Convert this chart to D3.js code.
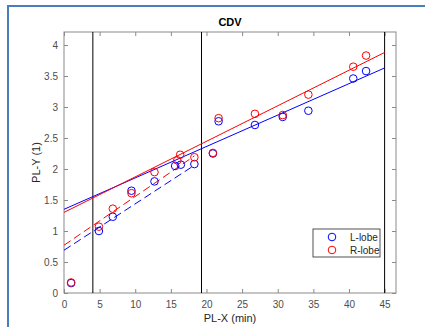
<!DOCTYPE html>
<html>
<head>
<meta charset="utf-8">
<script src="https://cdn.jsdelivr.net/npm/d3@7"></script>
<style>
  body { margin: 0; background: #fff; }
  svg { display: block; font-family: "Liberation Sans", Arial, sans-serif; }
</style>
</head>
<body>
<svg id="chart"></svg>
<script>
const W = 425, H = 327;
const MARGIN = { top: 32, right: 29, bottom: 34, left: 64 };
const WIDTH = W - MARGIN.left - MARGIN.right;
const HEIGHT = H - MARGIN.top - MARGIN.bottom;

// data
const xL = [1, 4.9, 6.85, 9.47, 12.7, 15.6, 16.4, 18.3, 20.9, 21.7, 26.8, 30.7, 34.3, 40.6, 42.4];
const yL = [0.16, 1.00, 1.23, 1.65, 1.80, 2.05, 2.07, 2.08, 2.25, 2.77, 2.71, 2.84, 2.94, 3.46, 3.58];
const xR = [1, 4.9, 6.85, 9.47, 12.7, 15.9, 16.3, 18.3, 20.9, 21.7, 26.8, 30.7, 34.3, 40.6, 42.4];
const yR = [0.17, 1.07, 1.36, 1.61, 1.95, 2.14, 2.23, 2.19, 2.26, 2.82, 2.89, 2.87, 3.20, 3.65, 3.83];

// fitted lines (end points)
const fitLsolid = { x: [0, 45], y: [1.35, 3.63] };
const fitRsolid = { x: [0, 45], y: [1.30, 3.88] };
const fitLdash = { x: [0, 18.3], y: [0.69, 2.06] };
const fitRdash = { x: [0, 18.3], y: [0.77, 2.21] };

const cutoffs = [4.05, 19.3, 45];
const xTicks = [0, 5, 10, 15, 20, 25, 30, 35, 40, 45];
const yTicks = [0, 0.5, 1, 1.5, 2, 2.5, 3, 3.5, 4];
const seriesNames = ['L-lobe', 'R-lobe'];
const BLUE = '#0000ff', RED = '#ff0000';

const svg = d3.select('#chart').attr('width', W).attr('height', H);

// outer blue frame
svg.append('path')
  .attr('d', `M8,${H} L8,6 L${W},6`)
  .attr('fill', 'none')
  .attr('stroke', '#4a7ebb')
  .attr('stroke-width', 2);

const chart = svg.append('g')
  .attr('transform', `translate(${MARGIN.left},${MARGIN.top})`);

const x = d3.scaleLinear().domain([0, 46.6]).range([0, WIDTH]);
const y = d3.scaleLinear().domain([0, 4.21]).range([HEIGHT, 0]);

const AXIS = '#8a8a8a';
const TXT = '#4d4d4d';

function styleAxis(g) {
  g.select('.domain').remove();
  g.selectAll('.tick line').attr('stroke', AXIS);
  g.selectAll('.tick text').attr('fill', TXT).style('font-size', '10px');
}

chart.append('g')
  .attr('transform', `translate(0,${HEIGHT})`)
  .call(d3.axisBottom(x).tickValues(xTicks).tickSizeInner(-4).tickSizeOuter(0).tickPadding(8))
  .call(styleAxis);
chart.append('g')
  .call(d3.axisTop(x).tickValues(xTicks).tickSizeInner(-4).tickSizeOuter(0).tickFormat(''))
  .call(styleAxis);
chart.append('g')
  .call(d3.axisLeft(y).tickValues(yTicks).tickSizeInner(-4).tickSizeOuter(0).tickPadding(6).tickFormat(d3.format('')))
  .call(styleAxis);
chart.append('g')
  .attr('transform', `translate(${WIDTH},0)`)
  .call(d3.axisRight(y).tickValues(yTicks).tickSizeInner(-4).tickSizeOuter(0).tickFormat(''))
  .call(styleAxis);

chart.append('rect')
  .attr('width', WIDTH).attr('height', HEIGHT)
  .attr('fill', 'none').attr('stroke', AXIS).attr('stroke-width', 1);

// vertical cut-off lines
chart.selectAll('.cut')
  .data(cutoffs)
.enter()
  .append('line')
  .attr('x1', d => x(d)).attr('x2', d => x(d))
  .attr('y1', 0).attr('y2', HEIGHT)
  .attr('stroke', '#000').attr('stroke-width', 1);

const line = d3.line().x(d => x(d[0])).y(d => y(d[1]));
const fits = [
  [fitLsolid, BLUE, null], [fitRsolid, RED, null],
  [fitLdash, BLUE, '8,4'], [fitRdash, RED, '8,4'],
];
fits.forEach(([f, c, dash]) => {
  chart.append('path')
    .attr('d', line(d3.zip(f.x, f.y)))
    .attr('fill', 'none')
    .attr('stroke', c)
    .attr('stroke-width', 1)
    .attr('stroke-dasharray', dash);
});

function dots(xs, ys, c) {
  chart.append('g').selectAll('circle')
    .data(d3.zip(xs, ys))
  .enter()
    .append('circle')
    .attr('cx', d => x(d[0])).attr('cy', d => y(d[1]))
    .attr('r', 3.8)
    .attr('fill', 'none')
    .attr('stroke', c)
    .attr('stroke-width', 1);
}
dots(xL, yL, BLUE);
dots(xR, yR, RED);

// title and labels
svg.append('text')
  .attr('x', MARGIN.left + WIDTH / 2).attr('y', 26)
  .attr('text-anchor', 'middle')
  .style('font-size', '11px').style('font-weight', 'bold')
  .attr('fill', '#000')
  .text('CDV');
svg.append('text')
  .attr('x', MARGIN.left + WIDTH / 2).attr('y', 322)
  .attr('text-anchor', 'middle')
  .style('font-size', '11px')
  .attr('fill', '#262626')
  .text('PL-X (min)');
svg.append('text')
  .attr('transform', `translate(40,${MARGIN.top + HEIGHT / 2}) rotate(-90)`)
  .attr('text-anchor', 'middle')
  .style('font-size', '11px')
  .attr('fill', '#262626')
  .text('PL-Y (1)');

// legend
const legend = svg.append('g').attr('transform', 'translate(313,229)');
legend.append('rect')
  .attr('width', 67).attr('height', 28)
  .attr('fill', '#fff').attr('stroke', '#262626').attr('stroke-width', 0.8);
seriesNames.forEach((name, i) => {
  const g = legend.append('g').attr('transform', `translate(0,${8 + i * 13})`);
  g.append('circle')
    .attr('cx', 19).attr('cy', 0).attr('r', 3.8)
    .attr('fill', 'none').attr('stroke', i ? RED : BLUE);
  g.append('text')
    .attr('x', 37).attr('y', 3.5)
    .style('font-size', '10px')
    .attr('fill', '#262626')
    .text(name);
});
</script>
</body>
</html>
